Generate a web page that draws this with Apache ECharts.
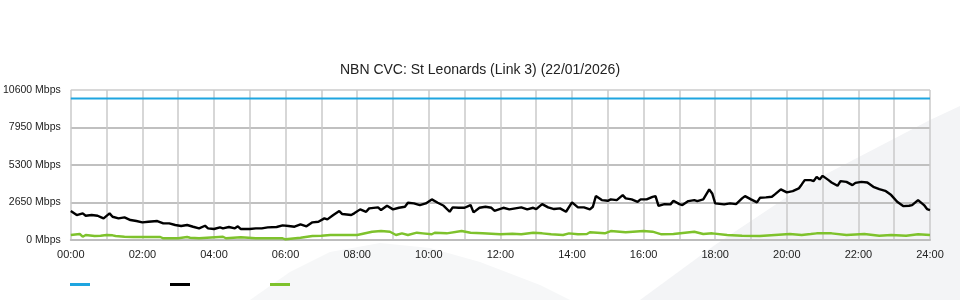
<!DOCTYPE html>
<html>
<head>
<meta charset="utf-8">
<script src="https://cdn.jsdelivr.net/npm/echarts@6/dist/echarts.min.js"></script>
<style>html,body{margin:0;padding:0;background:#fff}#c{width:960px;height:300px}</style>
</head>
<body>
<div id="c"></div>
<script>
// ---- data (minutes since midnight, Mbps) ----
const titleText = 'NBN CVC: St Leonards (Link 3) (22/01/2026)';
const xTickLabels = ['00:00','02:00','04:00','06:00','08:00','10:00','12:00','14:00','16:00','18:00','20:00','22:00','24:00'];
const yTicks = [0, 2650, 5300, 7950, 10600];
const seriesNames = ['Capacity', 'Download', 'Upload'];

const capTimes = [0, 1440];
const capValues = [10000, 10000];

const dlTimes = [0,10,20,25,35,45,50,55,65,70,80,90,100,110,120,130,145,155,165,175,185,195,205,215,225,230,240,250,255,265,275,280,285,300,310,320,330,345,355,365,375,385,395,405,415,425,430,440,450,455,470,475,485,495,500,515,520,530,540,550,560,565,575,585,595,605,615,625,635,640,650,660,670,675,685,695,705,710,725,735,745,755,765,775,780,790,800,810,820,830,840,850,860,870,875,880,890,900,905,915,925,930,940,950,955,965,975,980,985,995,1005,1010,1020,1025,1035,1045,1050,1060,1070,1075,1080,1095,1105,1115,1125,1130,1140,1150,1155,1165,1175,1180,1190,1200,1210,1220,1225,1230,1240,1245,1250,1255,1260,1270,1275,1285,1290,1300,1310,1315,1325,1335,1345,1355,1365,1375,1385,1395,1405,1410,1420,1430,1435,1440];
const dlValues = [2045,1763,1882,1713,1763,1713,1622,1530,1882,1643,1530,1600,1410,1340,1248,1290,1340,1177,1177,1058,987,1058,938,825,1008,825,776,895,825,917,825,966,776,776,825,825,895,917,1036,987,938,1107,966,1248,1290,1530,1459,1763,2045,1833,1763,1882,2164,1995,2235,2305,2115,2418,2164,2277,2348,2630,2587,2468,2587,2869,2630,2418,1995,2305,2277,2277,2468,1953,2277,2348,2277,2066,2277,2164,2235,2305,2164,2277,2186,2538,2305,2186,2235,1995,2658,2305,2305,2164,2348,3102,2820,2771,2869,2820,3173,2940,2869,2700,2869,2869,3053,3102,2418,2538,2517,2771,2538,2468,2750,2820,2750,2869,3574,3292,2587,2517,2587,2538,2940,3102,2869,2658,2982,3010,3053,3222,3574,3363,3455,3645,3927,4230,4230,4160,4463,4279,4533,4230,4068,3828,4160,4110,3878,4040,4110,4068,3758,3596,3476,3173,2700,2397,2418,2468,2820,2468,2186,2115];

const ulTimes = [0,15,20,25,40,50,60,70,75,90,105,150,155,180,195,200,215,255,260,285,310,355,360,385,405,420,435,480,505,520,535,545,555,565,580,590,605,610,630,655,670,690,720,740,755,775,790,805,825,835,850,865,870,895,905,930,960,975,990,1010,1045,1060,1075,1100,1125,1155,1180,1205,1225,1240,1250,1275,1300,1330,1355,1375,1400,1420,1440];
const ulValues = [353,423,233,353,282,303,353,331,282,233,212,212,120,120,212,162,120,233,120,190,120,120,49,162,282,303,353,353,585,635,585,353,472,353,515,472,402,515,472,635,515,472,402,444,402,515,472,402,353,472,402,423,543,472,635,543,635,585,402,423,585,423,472,353,303,282,353,423,353,423,472,472,353,423,303,353,303,402,353];

function pairs(t, v) { return t.map((x, i) => [x, v[i]]); }

const FONT = '"Liberation Sans", Arial, sans-serif';
const chart = echarts.init(document.getElementById('c'), null, {renderer: 'canvas'});
chart.setOption({
  backgroundColor: '#ffffff',
  animation: false,
  textStyle: {fontFamily: FONT},
  title: {
    text: titleText, left: 'center', top: 58,
    textStyle: {fontSize: 14, fontWeight: 'normal', color: '#222', fontFamily: FONT}
  },
  graphic: [
    {type: 'polygon', z: -10, silent: true,
     shape: {points: [[640,300],[715,245],[805,185],[930,120],[960,106],[960,300]]},
     style: {fill: '#f3f4f6'}},
    {type: 'polygon', z: -10, silent: true,
     shape: {points: [[250,300],[290,272],[330,252],[380,243],[430,248],[480,262],[540,285],[570,300]]},
     style: {fill: '#f6f7f8'}}
  ],
  legend: {
    left: 70, top: 283, padding: 0, icon: 'rect', itemWidth: 20, itemHeight: 3, itemGap: 80,
    formatter: () => '',
    data: seriesNames
  },
  grid: {left: 70, right: 30, top: 90, bottom: 60, containLabel: false},
  xAxis: {
    type: 'value', min: 0, max: 1440, interval: 60,
    axisLine: {show: true, lineStyle: {color: '#bdbdbd', width: 2}},
    axisTick: {show: false},
    axisLabel: {
      color: '#222', fontSize: 11, margin: 9, fontFamily: FONT,
      formatter: (v) => (v % 120 === 0 ? xTickLabels[v / 120] : '')
    },
    splitLine: {show: true, lineStyle: {color: '#cacaca', width: 1.5}}
  },
  yAxis: {
    type: 'value', min: yTicks[0], max: yTicks[yTicks.length - 1], interval: yTicks[1] - yTicks[0],
    axisLine: {show: false},
    axisTick: {show: false},
    axisLabel: {color: '#222', fontSize: 10.5, margin: 10, fontFamily: FONT, formatter: (v) => v + ' Mbps'},
    splitLine: {show: true, lineStyle: {color: ['#bdbdbd','#c0c0c0','#c0c0c0','#c0c0c0','#d8d8d8'], width: 2}}
  },
  series: [
    {name: seriesNames[0], type: 'line', data: pairs(capTimes, capValues), showSymbol: false,
     lineStyle: {color: '#1ea5e0', width: 2}, itemStyle: {color: '#1ea5e0'}, z: 3},
    {name: seriesNames[1], type: 'line', data: pairs(dlTimes, dlValues), showSymbol: false,
     lineStyle: {color: '#000000', width: 2.4}, itemStyle: {color: '#000000'}, z: 4},
    {name: seriesNames[2], type: 'line', data: pairs(ulTimes, ulValues), showSymbol: false,
     lineStyle: {color: '#7ec22c', width: 2.4}, itemStyle: {color: '#7ec22c'}, z: 3}
  ]
});
</script>
</body>
</html>
